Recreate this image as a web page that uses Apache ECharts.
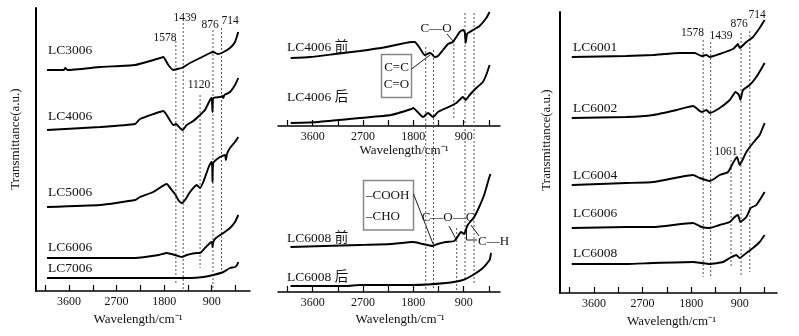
<!DOCTYPE html>
<html>
<head>
<meta charset="utf-8">
<script src="https://cdn.jsdelivr.net/npm/echarts@6/dist/echarts.min.js"></script>
<style>
  html, body { margin: 0; padding: 0; background: #fff; }
  #chart { width: 799px; height: 336px; }
</style>
</head>
<body>
<div id="chart"></div>
<script>
// tick positions and labels (cm-1)
var tickValues = [4050, 3600, 3150, 2700, 2250, 1800, 1350, 900, 450];
var tickLabels = [3600, 2700, 1800, 900];

// left panel spectra [wavenumber, transmittance a.u.]
var lc3006 = [[4016,221],[3700,221],[3670,223],[3630,221],[3000,224],[2351,226],[2000,231],[1878,233],[1816,234],[1721,226],[1627,221],[1551,222],[1468,223],[1310,228],[1121,233],[932,238],[870,239],[786,237],[711,238],[554,243],[459,249],[397,259]];
var lc4006 = [[4016,161],[3013,164],[2351,167],[2257,172],[2000,177],[1816,180],[1751,176],[1627,166],[1575,167],[1500,163],[1449,161],[1373,166],[1248,170],[1121,176],[1027,181],[932,191],[900,193],[885,179],[870,193],[743,194],[700,195],[680,193],[660,196],[554,199],[459,206],[397,213]];
var lc5006 = [[4016,84],[3013,86],[2351,91],[2257,94],[2005,99],[1751,107],[1657,101],[1594,97],[1532,91],[1468,88],[1405,91],[1310,99],[1184,106],[1121,103],[1059,109],[964,123],[919,128],[894,129],[885,109],[870,128],[743,134],[648,136],[630,131],[611,137],[554,143],[459,149],[397,154]];
var lc6006 = [[4016,33],[2351,33],[1900,36],[1751,38],[1594,36],[1468,34],[1373,36],[1184,38],[1121,38],[1027,43],[932,48],[894,49],[885,44],[870,49],[820,53],[680,58],[554,63],[459,69],[397,76]];
var lc7006 = [[4016,13],[3000,13],[2000,13],[1310,13],[1059,14],[870,16],[680,19],[554,23],[459,24],[420,26],[397,29]];

// middle panel spectra
var lc4006Before = [[3993,68],[3648,69],[3200,72],[2756,75],[2280,79],[1833,84],[1774,84],[1685,78],[1596,71],[1507,73],[1470,72],[1418,69],[1359,70],[1270,76],[1180,82],[1091,84],[1030,89],[972,94],[913,96],[880,94],[864,83],[840,92],[823,93],[734,96],[615,100],[495,108],[436,114]];
var lc4006After = [[3993,3],[3500,4],[2756,8],[2200,11],[1833,17],[1804,18],[1626,9],[1537,13],[1448,9],[1359,14],[1209,18],[1030,23],[913,29],[864,26],[793,31],[674,38],[556,44],[490,52],[436,61]];
var lc6008Before = [[3997,45],[3400,46],[2762,47],[2200,48],[1812,50],[1700,49],[1634,48],[1456,46],[1366,48],[1217,50],[1069,51],[1010,55],[949,60],[891,58],[837,66],[801,69],[712,75],[623,85],[534,97],[445,114],[420,118]];
var lc6008After = [[3997,6],[3000,6],[2762,7],[1812,7],[1217,9],[913,12],[734,17],[556,24],[436,32],[410,39]];

// right panel spectra
var lc6001 = [[4012,236],[3000,237],[2504,238],[2010,240],[1733,240],[1609,237],[1517,238],[1456,236],[1271,239],[1025,244],[950,248],[933,249],[901,245],[778,251],[655,256],[532,265],[439,273]];
var lc6002 = [[4012,175],[3000,176],[2504,178],[2071,183],[1765,187],[1609,181],[1517,183],[1456,180],[1271,185],[1086,193],[976,201],[914,198],[888,193],[840,203],[716,208],[593,216],[439,230]];
var lc6004 = [[4012,108],[3000,110],[2504,111],[2010,116],[1765,118],[1641,115],[1456,112],[1350,115],[1271,118],[1117,121],[1025,130],[951,136],[901,128],[850,133],[778,141],[655,150],[532,158],[439,170]];
var lc6006b = [[4012,65],[3000,66],[2504,66],[1765,70],[1609,66],[1456,65],[1271,68],[1086,71],[994,76],[933,78],[888,71],[778,76],[697,85],[593,88],[439,101]];
var lc6008 = [[4012,29],[3000,29],[2504,30],[1765,31],[1609,30],[1456,29],[1209,31],[1086,35],[963,38],[901,35],[778,40],[655,45],[532,51],[439,58]];

// dashed reference lines [wavenumber, top, bottom]
var dashLeft = [[1578,250,8],[1439,268,1],[1120,196,23],[876,261,0],[714,263,21]];
var dashMid = [[1578,245,2],[1439,242,2],[1075,252,174],[1025,64,2],[876,279,12],[714,279,8]];
var dashRight = [[1578,253,16],[1439,251,16],[1061,133,25],[876,260,16],[714,262,21]];

var serif = 'Liberation Serif, Noto Sans CJK SC';
var chart = echarts.init(document.getElementById('chart'));

function xAx(grid, min, max, showAxis, nameGap, pad) {
    return {
        type: 'value', gridIndex: grid, inverse: true, min: min, max: max,
        show: showAxis,
        name: showAxis ? 'Wavelength/cm\u207B\u00B9' : '',
        nameLocation: 'middle', nameGap: nameGap,
        nameTextStyle: { fontFamily: serif, fontSize: 13, color: '#111', padding: pad },
        axisLine: { onZero: false, lineStyle: { color: '#000', width: 1.5 } },
        axisTick: { inside: true, length: 6, customValues: tickValues, lineStyle: { color: '#000', width: 1.2 } },
        axisLabel: { customValues: tickLabels, fontFamily: serif, fontSize: 12, color: '#111', margin: 5,
            formatter: function (v) { return String(v); } },
        splitLine: { show: false }
    };
}
function yAx(grid, max, showLine) {
    return {
        type: 'value', gridIndex: grid, min: 0, max: max,
        axisLine: { show: showLine, onZero: false, lineStyle: { color: '#000', width: 2 } },
        axisTick: { show: false }, axisLabel: { show: false }, splitLine: { show: false }
    };
}
function spec(data, idx) {
    return {
        type: 'line', data: data, xAxisIndex: idx, yAxisIndex: idx,
        symbol: 'none', silent: true, smooth: 0.15,
        lineStyle: { color: '#000', width: 1.9 }
    };
}
function dashes(list, idx) {
    return list.map(function (d) {
        return {
            type: 'line', data: [[d[0], d[1]], [d[0], d[2]]], xAxisIndex: idx, yAxisIndex: idx,
            symbol: 'none', silent: true, z: 1,
            lineStyle: { color: '#555', width: 1, type: [2, 2] }
        };
    });
}
function txt(s, x, y, size, align) {
    return {
        type: 'text', x: x, y: y, silent: true,
        style: {
            text: s, fill: '#111', fontFamily: serif, fontSize: size,
            align: align || 'center', textAlign: align || 'center',
            verticalAlign: 'middle', textVerticalAlign: 'middle'
        }
    };
}
function seg(x1, y1, x2, y2) {
    return { type: 'line', silent: true, shape: { x1: x1, y1: y1, x2: x2, y2: y2 }, style: { stroke: '#000', lineWidth: 0.9 } };
}
function box(x, y, w, h) {
    return { type: 'rect', silent: true, shape: { x: x, y: y, width: w, height: h }, style: { fill: 'none', stroke: '#888', lineWidth: 1.5 } };
}

var series = [
    spec(lc3006, 0), spec(lc4006, 0), spec(lc5006, 0), spec(lc6006, 0), spec(lc7006, 0),
    spec(lc4006Before, 1), spec(lc4006After, 1),
    spec(lc6008Before, 2), spec(lc6008After, 2),
    spec(lc6001, 3), spec(lc6002, 3), spec(lc6004, 3), spec(lc6006b, 3), spec(lc6008, 3)
].concat(dashes(dashLeft, 0), dashes(dashMid, 4), dashes(dashRight, 3));

var yName = {
    type: 'text', silent: true, rotation: Math.PI / 2,
    style: { text: 'Transmittance(a.u.)', fill: '#111', fontFamily: serif, fontSize: 13,
        align: 'center', textAlign: 'center', verticalAlign: 'middle', textVerticalAlign: 'middle' }
};

var option = {
    animation: false,
    backgroundColor: '#fff',
    grid: [
        { left: 36, top: 8, width: 214, height: 283, outerBoundsMode: 'none' },
        { left: 278, top: 6, width: 222, height: 120, outerBoundsMode: 'none' },
        { left: 278, top: 165, width: 222, height: 127, outerBoundsMode: 'none' },
        { left: 560, top: 12, width: 217, height: 281, outerBoundsMode: 'none' },
        { left: 278, top: 0, width: 222, height: 292, outerBoundsMode: 'none' }
    ],
    xAxis: [
        xAx(0, 175, 4225, true, 21, [0, 10, 0, 0]),
        xAx(1, 250, 4220, true, 13, [0, 0, 0, 30]),
        xAx(2, 250, 4220, true, 21, [0, 0, 0, 22]),
        xAx(3, 210, 4230, true, 20, [0, 0, 0, 6]),
        xAx(4, 250, 4220, false, 0, 0)
    ],
    yAxis: [yAx(0, 283, true), yAx(1, 120, false), yAx(2, 127, false), yAx(3, 281, true), yAx(4, 292, false)],
    series: series,
    graphic: [
        Object.assign({ x: 16, y: 139 }, yName),
        Object.assign({ x: 547, y: 140 }, yName),
        // left panel
        txt('LC3006', 48, 50, 13.5, 'left'), txt('LC4006', 48, 116, 13.5, 'left'),
        txt('LC5006', 48, 192, 13.5, 'left'), txt('LC6006', 48, 247, 13.5, 'left'),
        txt('LC7006', 48, 268, 13.5, 'left'),
        txt('1578', 165, 38, 11.5), txt('1439', 185, 18, 11.5), txt('876', 210, 25, 11.5),
        txt('714', 230, 21, 11.5), txt('1120', 199, 85, 11.5),
        // middle panel
        txt('LC4006 前', 287, 47, 13.5, 'left'), txt('LC4006 后', 287, 97, 13.5, 'left'),
        txt('LC6008 前', 287, 238, 13.5, 'left'), txt('LC6008 后', 287, 277, 13.5, 'left'),
        box(381.5, 54.5, 30, 43), txt('C=C', 396.5, 68, 13), txt('C=O', 396.5, 85, 13),
        seg(411.5, 69, 430, 55),
        txt('C—O', 436, 28.5, 13), seg(447, 34, 453.5, 41.5),
        box(363.5, 180.5, 50, 49.5), txt('–COOH', 366, 196, 13, 'left'), txt('–CHO', 366, 217, 13, 'left'),
        seg(413.5, 194, 433.5, 245),
        txt('C—O—C', 448, 218, 13), seg(449, 226, 456.5, 240),
        seg(466.5, 226, 466.5, 240), seg(466.5, 240, 477, 240), seg(471, 225, 479, 236),
        txt('C—H', 478, 242, 13, 'left'),
        // right panel
        txt('LC6001', 573, 47, 13.5, 'left'), txt('LC6002', 573, 108, 13.5, 'left'),
        txt('LC6004', 573, 175, 13.5, 'left'), txt('LC6006', 573, 213, 13.5, 'left'),
        txt('LC6008', 573, 253, 13.5, 'left'),
        txt('1578', 692.5, 33, 11.5), txt('1439', 721, 35.5, 11.5), txt('876', 739, 24, 11.5),
        txt('714', 757, 15, 11.5), txt('1061', 726, 152, 11.5)
    ]
};
chart.setOption(option);
</script>
</body>
</html>
